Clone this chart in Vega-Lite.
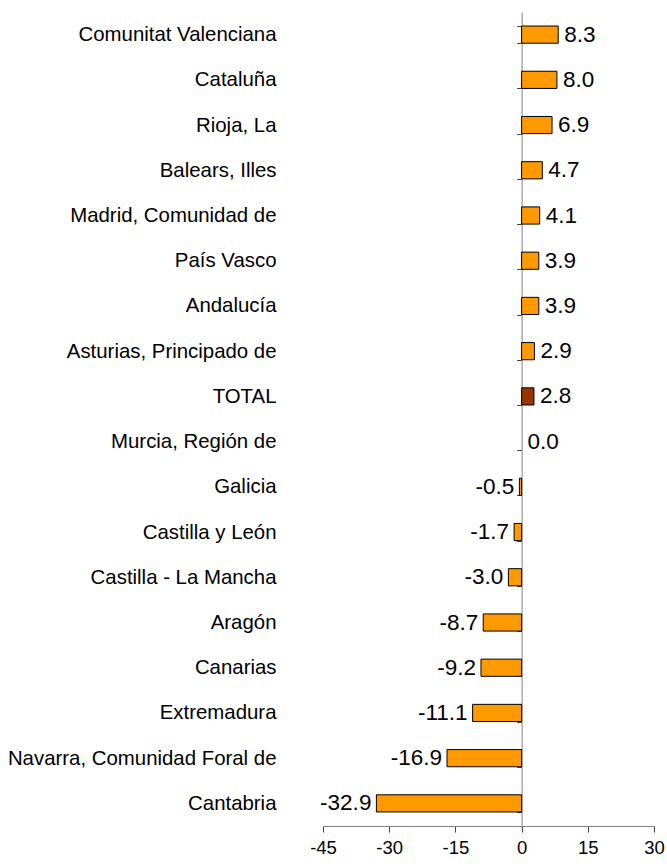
{
  "$schema": "https://vega.github.io/schema/vega-lite/v6.json",
  "width": 331,
  "height": 814,
  "autosize": {"type": "none"},
  "padding": {"left": 323, "top": 12, "right": 13, "bottom": 38},
  "background": "white",
  "config": {
    "view": {"stroke": null},
    "font": "Liberation Sans",
    "locale": {"number": {"decimal": ".", "thousands": ",", "grouping": [3], "currency": ["", ""], "minus": "-"}},
    "axis": {"grid": false, "labelFont": "Liberation Sans", "labelColor": "#000", "domainColor": "#808080", "tickColor": "#444", "title": null}
  },
  "data": {
    "values": [
      {"region": "Comunitat Valenciana", "value": 8.3},
      {"region": "Cataluña", "value": 8.0},
      {"region": "Rioja, La", "value": 6.9},
      {"region": "Balears, Illes", "value": 4.7},
      {"region": "Madrid, Comunidad de", "value": 4.1},
      {"region": "País Vasco", "value": 3.9},
      {"region": "Andalucía", "value": 3.9},
      {"region": "Asturias, Principado de", "value": 2.9},
      {"region": "TOTAL", "value": 2.8},
      {"region": "Murcia, Región de", "value": 0.0},
      {"region": "Galicia", "value": -0.5},
      {"region": "Castilla y León", "value": -1.7},
      {"region": "Castilla - La Mancha", "value": -3.0},
      {"region": "Aragón", "value": -8.7},
      {"region": "Canarias", "value": -9.2},
      {"region": "Extremadura", "value": -11.1},
      {"region": "Navarra, Comunidad Foral de", "value": -16.9},
      {"region": "Cantabria", "value": -32.9}
    ]
  },
  "encoding": {
    "y": {
      "field": "region",
      "type": "nominal",
      "sort": ["Comunitat Valenciana", "Cataluña", "Rioja, La", "Balears, Illes", "Madrid, Comunidad de", "País Vasco", "Andalucía", "Asturias, Principado de", "TOTAL", "Murcia, Región de", "Galicia", "Castilla y León", "Castilla - La Mancha", "Aragón", "Canarias", "Extremadura", "Navarra, Comunidad Foral de", "Cantabria"],
      "scale": {"paddingInner": 0.62, "paddingOuter": 0.31},
      "axis": {
        "orient": "left",
        "offset": -198.6,
        "tickBand": "extent",
        "tickSize": 5,
        "labelPadding": 240.6,
        "labelFontSize": 20.4,
        "labelLimit": 400,
        "domainWidth": 1,
        "tickWidth": 1
      }
    },
    "x": {
      "field": "value",
      "type": "quantitative",
      "scale": {"domain": [-45, 30], "nice": false, "zero": false},
      "axis": {
        "values": [-45, -30, -15, 0, 15, 30],
        "tickSize": 6,
        "labelPadding": 6,
        "labelFontSize": 18.5,
        "labelFlush": false
      }
    }
  },
  "layer": [
    {
      "transform": [{"filter": "datum.value != 0"}],
      "mark": {"type": "bar", "stroke": "#000", "strokeWidth": 1},
      "encoding": {
        "color": {
          "condition": {"test": "datum.region === 'TOTAL'", "value": "#993300"},
          "value": "#FF9900"
        }
      }
    },
    {
      "transform": [{"filter": "datum.value >= 0"}],
      "mark": {"type": "text", "align": "left", "baseline": "middle", "dx": 6, "fontSize": 22.5, "font": "Liberation Sans"},
      "encoding": {"text": {"field": "value", "type": "quantitative", "format": ".1f"}}
    },
    {
      "transform": [{"filter": "datum.value < 0"}],
      "mark": {"type": "text", "align": "right", "baseline": "middle", "dx": -5, "fontSize": 22.5, "font": "Liberation Sans"},
      "encoding": {"text": {"field": "value", "type": "quantitative", "format": ".1f"}}
    }
  ]
}
